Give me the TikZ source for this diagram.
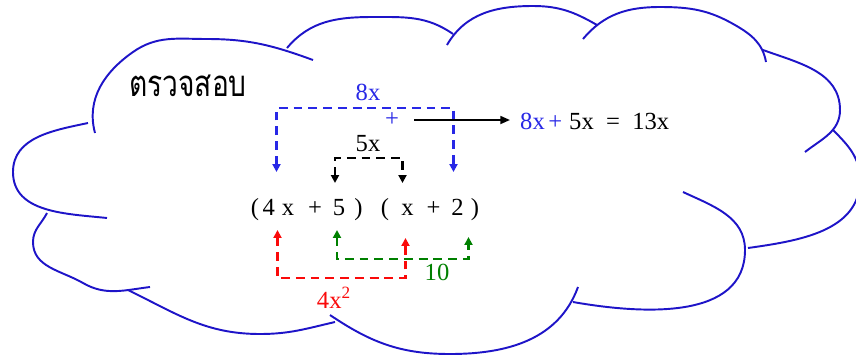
\documentclass[tikz,border=0pt]{standalone}
\usepackage{fontspec}
\setmainfont{Liberation Serif}
\newfontfamily\thaifont[Script=Thai]{Loma}
\usetikzlibrary{arrows.meta,calc}
\definecolor{cloudblue}{RGB}{30,20,200}
\definecolor{sumblue}{RGB}{40,40,230}
\definecolor{prodred}{RGB}{250,10,10}
\definecolor{prodgreen}{RGB}{0,128,0}

\begin{document}
\begin{tikzpicture}[x=0.02cm,y=-0.02cm,>={Triangle[length=4.5pt,width=4.5pt]},
  font=\fontsize{14}{16}\selectfont,
  cloudline/.style={cloudblue,line width=1.1pt},
  dashline/.style={line width=1.4pt,dash pattern=on 5pt off 3.4pt,<->},
  term/.style={inner sep=0pt,anchor=base}]
\useasboundingbox (0,0) rectangle (856,356);
\begin{scope}
\clip (0,0) rectangle (856,356);
% cloud, one lobe at a time
\draw[cloudline] (95,133) to[out=105,in=215] (133,52) to[out=35,in=180] (207,39) to[out=0,in=160] (313,60);
\draw[cloudline] (287,48) to[out=50,in=180] (373,17) to[out=0,in=145] (453,34);
\draw[cloudline] (447,45) to[out=60,in=180] (533,6) to[out=0,in=150] (597,25);
\draw[cloudline] (583,39) to[out=50,in=180] (660,7) to[out=0,in=150] (735,25) to[out=-30,in=100] (766,62);
\draw[cloudline] (763,50) to[out=-20,in=90] (840,110) to[out=270,in=38] (805,152);
\draw[cloudline] (833,130) to[out=-45,in=90] (860,180) to[out=270,in=8] (748,248);
\draw[cloudline] (683,192) to[out=-25,in=90] (745,250) to[out=270,in=-10] (573,302);
\draw[cloudline] (578,287) to[out=250,in=0] (450,354) to[out=180,in=-34] (330,315);
\draw[cloudline] (128,290) to[out=-26,in=180] (260,334) to[out=0,in=193] (335,322);
\draw[cloudline] (47,213) to[out=243,in=90] (33,242) to[out=270,in=150] (83,283) to[out=-30,in=187] (150,287);
\draw[cloudline] (107,218) to[out=174,in=270] (13,172) to[out=90,in=192] (88,123);
\end{scope}

\node[font=\thaifont\fontsize{16}{18}\selectfont] (check) at (188,86) {\scalebox{1}[1.3]{ตรวจสอบ}};

% the product
\node[term] (lpA) at (255,215) {(};
\node[term] (ax) at (278.5,215) {4\hspace{4pt}x};
\node[term] (plA) at (315,215) {+};
\node[term] (cA) at (339,215) {5};
\node[term] (rpA) at (358.5,215) {)};
\node[term] (lpB) at (385,215) {(};
\node[term] (xB) at (407.5,215) {x};
\node[term] (plB) at (433.5,215) {+};
\node[term] (cB) at (457.5,215) {2};
\node[term] (rpB) at (475,215) {)};

% outer and inner terms
\draw[dashline,sumblue] ($(ax |- 0,172)+(-2,0)$) -- ++(0,-64) -| ($(cB |- 0,172)+(-4,0)$);
\node[text=sumblue] (outer) at (368,92) {8x};
\draw[dashline] ($(cA |- 0,183)+(-4,0)$) -- ++(0,-25) -| ($(xB |- 0,183)+(-5,0)$);
\node (inner) at (368,144) {5x};
\node[text=sumblue] (plus) at (392,120) {+};
\node[anchor=west] (res) at (514,121) {\textcolor{sumblue}{8x\hspace{2pt}+\hspace{4pt}}5x\hspace{7pt}=\hspace{7pt}13x};
\draw[-{Triangle[length=5.5pt,width=4.5pt]},line width=1.1pt,shorten <=0.18cm,shorten >=0.08cm] (plus.east) -- (plus.east -| res.west);

% first and last terms
\draw[dashline,prodred] ($(ax |- 0,230)+(-1,0)$) -- ++(0,48) -| ($(xB |- 0,238)+(-2,0)$);
\node[text=prodred,anchor=base] (first) at (334,308) {4x\textsuperscript{2}};
\draw[dashline,prodgreen] ($(cA |- 0,230)+(-2,0)$) -- ++(0,29) -| ($(cB |- 0,237)+(11,0)$);
\node[text=prodgreen] (last) at (437,272) {10};
\end{tikzpicture}
\end{document}
